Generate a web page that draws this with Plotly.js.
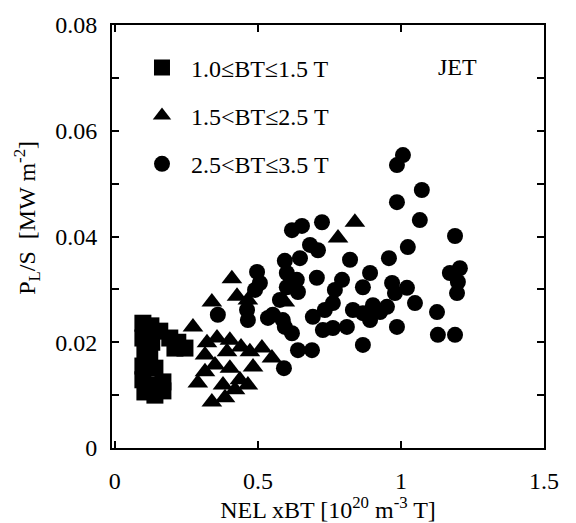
<!DOCTYPE html>
<html>
<head>
<meta charset="utf-8">
<script src="https://cdn.plot.ly/plotly-3.0.1.min.js"></script>
<style>html,body{margin:0;padding:0;background:#fff;}#chart{width:576px;height:523px;}</style>
</head>
<body>
<div id="chart"></div>
<script>
// Series 1: 1.0<=BT<=1.5 T (squares)
const sqX = [0.098,0.126,0.157,0.192,0.245,0.210,0.098,0.129,0.105,0.098,0.140,0.098,0.168,0.105,0.168,0.122,0.122,0.122,0.140,0.220];
const sqY = [0.0236,0.0231,0.0221,0.0208,0.0189,0.0189,0.0208,0.0200,0.0182,0.0155,0.0151,0.0129,0.0125,0.0106,0.0108,0.0214,0.0170,0.0119,0.0100,0.0200];

// Series 2: 1.5<BT<=2.5 T (triangles)
const trX = [0.409,0.427,0.339,0.273,0.322,0.315,0.392,0.441,0.514,0.549,0.483,0.437,0.290,0.378,0.420,0.339,0.465,0.594,0.780,0.839,0.357,0.402,0.472,0.350,0.402,0.315,0.465,0.385];
const trY = [0.0320,0.0287,0.0276,0.0229,0.0199,0.0176,0.0182,0.0191,0.0189,0.0170,0.0153,0.0129,0.0123,0.0119,0.0110,0.0087,0.0280,0.0276,0.0397,0.0427,0.0208,0.0204,0.0182,0.0157,0.0151,0.0144,0.0119,0.0095];

// Series 3: 2.5<BT<=3.5 T (circles)
const ciX = [1.007,0.986,1.073,0.986,1.066,1.189,0.724,0.654,0.619,1.024,0.682,0.710,0.822,0.958,0.594,0.647,0.497,0.892,1.171,1.206,1.199,1.196,0.794,0.769,0.867,0.969,1.021,1.049,0.951,0.979,0.706,0.601,0.601,0.636,0.490,0.462,0.465,0.832,0.867,0.902,0.927,0.892,0.734,0.762,0.762,0.811,0.727,0.986,1.126,1.129,1.189,0.867,0.360,0.535,0.594,0.619,0.640,0.689,0.591,0.692,0.552,0.587,0.640,0.507,0.577];
const ciY = [0.0554,0.0535,0.0488,0.0465,0.0431,0.0401,0.0427,0.0420,0.0412,0.0380,0.0384,0.0374,0.0356,0.0359,0.0354,0.0359,0.0333,0.0331,0.0331,0.0340,0.0314,0.0293,0.0318,0.0299,0.0304,0.0312,0.0303,0.0274,0.0267,0.0293,0.0322,0.0331,0.0304,0.0318,0.0299,0.0261,0.0242,0.0261,0.0255,0.0270,0.0257,0.0242,0.0261,0.0274,0.0227,0.0229,0.0223,0.0229,0.0257,0.0214,0.0214,0.0195,0.0252,0.0246,0.0229,0.0217,0.0185,0.0185,0.0151,0.0248,0.0252,0.0242,0.0295,0.0312,0.0280];

const seriesNames = ['1.0≤BT≤1.5 T','1.5&lt;BT≤2.5 T','2.5&lt;BT≤3.5 T'];
const xTickVals = [0,0.5,1,1.5];
const xTickText = ['0','0.5','1','1.5'];
const yTickVals = [0,0.01,0.02,0.03,0.04,0.05,0.06,0.07,0.08];
const yTickText = ['0','','0.02','','0.04','','0.06','','0.08'];

const FONT = 'Liberation Serif, Times New Roman, serif';

const traces = [
  {x: sqX, y: sqY, name: seriesNames[0], legendgroup: 'a', mode: 'markers', type: 'scatter',
   marker: {symbol: 'square', size: 17, color: '#000'}},
  {x: trX, y: trY, name: seriesNames[1], legendgroup: 'b', mode: 'markers', type: 'scatter',
   marker: {symbol: 'triangle-up', size: 18, color: '#000'}},
  {x: ciX, y: ciY, name: seriesNames[2], legendgroup: 'c', mode: 'markers', type: 'scatter',
   marker: {symbol: 'circle', size: 16, color: '#000'}}
];

const axisCommon = {
  showline: true, linecolor: '#000', linewidth: 2, mirror: 'ticks',
  ticks: 'inside', ticklen: 7, tickwidth: 2, tickcolor: '#000',
  showgrid: false, zeroline: false,
  tickfont: {family: FONT, size: 24, color: '#000'}
};

const layout = {
  width: 576, height: 523,
  margin: {l: 112, r: 32, t: 25, b: 75},
  paper_bgcolor: '#fff', plot_bgcolor: '#fff',
  font: {family: FONT, color: '#000'},
  showlegend: true,
  legend: {x: 0.0486, y: 0.952, xanchor: 'left', yanchor: 'top',
           bgcolor: 'rgba(0,0,0,0)', borderwidth: 0,
           font: {family: FONT, size: 24, color: '#000'},
           itemwidth: 48, tracegroupgap: 14, traceorder: 'grouped'},
  xaxis: Object.assign({}, axisCommon, {
    range: [-0.01, 1.5], tickmode: 'array', tickvals: xTickVals, ticktext: xTickText,
    ticklabelstandoff: 10,
    title: {text: 'NEL xBT [10<sup>20</sup> m<sup>-3</sup> T]', font: {family: FONT, size: 24, color: '#000'}, standoff: 6}
  }),
  yaxis: Object.assign({}, axisCommon, {
    range: [0, 0.08], tickmode: 'array', tickvals: yTickVals, ticktext: yTickText,
    ticklabelstandoff: 8
  }),
  annotations: [
    {text: 'JET', xref: 'paper', yref: 'paper', x: 0.80, y: 0.90, xanchor: 'center', yanchor: 'middle', showarrow: false,
     font: {family: FONT, size: 24, color: '#000'}},
    {text: 'P<sub>L</sub>/S  [MW m<sup>-2</sup>]', xref: 'paper', yref: 'paper', x: -0.197, y: 0.544,
     xanchor: 'center', yanchor: 'middle', textangle: -90, showarrow: false,
     font: {family: FONT, size: 24, color: '#000'}}
  ]
};

Plotly.newPlot('chart', traces, layout, {displayModeBar: false, staticPlot: true});
</script>
</body>
</html>
